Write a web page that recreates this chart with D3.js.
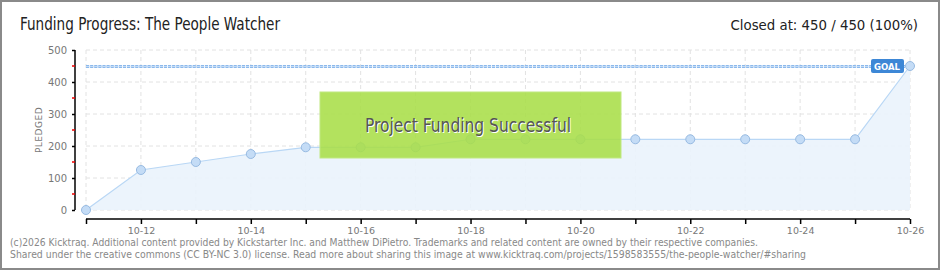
<!DOCTYPE html>
<html><head><meta charset="utf-8">
<script src="https://cdn.jsdelivr.net/npm/d3@7"></script>
<style>
html,body{margin:0;padding:0;background:#fff;}
svg{display:block;}
</style></head>
<body>
<svg id="c" width="940" height="270"></svg>
<script>
const dates = ["10-11","10-12","10-13","10-14","10-15","10-16","10-17","10-18","10-19","10-20","10-21","10-22","10-23","10-24","10-25","10-26"];
const pledged = [0,125,150,175,196,196,196,221,221,221,221,221,221,221,221,450];
const goal = 450;
const yTicks = [0,100,200,300,400,500];
const yMinorTicks = [50,150,250,350,450];
const xLabels = ["10-12","10-14","10-16","10-18","10-20","10-22","10-24","10-26"];
const title = "Funding Progress: The People Watcher";
const closedText = "Closed at:  450 /  450 (100%)";
const banner = "Project Funding Successful";
const footer1 = "(c)2026 Kicktraq. Additional content provided by Kickstarter Inc. and Matthew DiPietro. Trademarks and related content are owned by their respective companies.";
const footer2 = "Shared under the creative commons (CC BY-NC 3.0) license. Read more about sharing this image at www.kicktraq.com/projects/1598583555/the-people-watcher/#sharing";

const svg = d3.select("#c");
const font = "'DejaVu Sans', sans-serif";
const narrow = "'Liberation Sans Narrow', 'DejaVu Sans Condensed', 'Liberation Sans', sans-serif";

// frame
svg.append("rect").attr("x",1).attr("y",1).attr("width",938).attr("height",268)
  .attr("fill","#fff").attr("stroke","#8a8a8a").attr("stroke-width",2);

const x = d3.scalePoint().domain(dates).range([86,910]);
const y = d3.scaleLinear().domain([0,500]).range([210,50]);

// grid
const g = svg.append("g");
g.selectAll(".vg").data(dates).enter().append("line")
  .attr("x1",d=>x(d)).attr("x2",d=>x(d)).attr("y1",y(500)).attr("y2",y(0))
  .attr("stroke","#e2e2e2").attr("stroke-dasharray","4,3");
g.selectAll(".hg").data(yTicks).enter().append("line")
  .attr("x1",86).attr("x2",910).attr("y1",d=>y(d)).attr("y2",d=>y(d))
  .attr("stroke","#e2e2e2").attr("stroke-dasharray","4,3");

// area + line
const area = d3.area().x((d,i)=>x(dates[i])).y0(y(0)).y1(d=>y(d));
svg.append("path").datum(pledged).attr("d",area).attr("fill","#eaf3fc").attr("fill-opacity",0.9);
const line = d3.line().x((d,i)=>x(dates[i])).y(d=>y(d));
svg.append("path").datum(pledged).attr("d",line).attr("fill","none").attr("stroke","#b9d7f5").attr("stroke-width",1.2);

// goal line
svg.append("line").attr("x1",86).attr("x2",905).attr("y1",y(goal)+0.5).attr("y2",y(goal)+0.5)
  .attr("stroke","#8cb9ec").attr("stroke-width",3).attr("stroke-dasharray","3.2,0.9");
svg.append("line").attr("x1",86).attr("x2",905).attr("y1",y(goal)+0.5).attr("y2",y(goal)+0.5)
  .attr("stroke","#c2dbf6").attr("stroke-width",1).attr("stroke-dasharray","3.2,0.9");

// points
svg.selectAll(".pt").data(pledged).enter().append("circle")
  .attr("cx",(d,i)=>x(dates[i])).attr("cy",d=>y(d)).attr("r",4.5)
  .attr("fill","#c4dcf6").attr("stroke","#98bbe2").attr("stroke-width",1);

// goal label
const gx = x(dates[dates.length-1]);
svg.append("rect").attr("x",gx-39).attr("y",y(goal)-7).attr("width",33).attr("height",14).attr("rx",2)
  .attr("fill","#3d87d6");
svg.append("text").attr("x",gx-23).attr("y",y(goal)+3.5).attr("text-anchor","middle")
  .attr("font-family",font).attr("font-size",8.5).attr("font-weight","bold").attr("fill","#fff").text("GOAL");

// y axis
const yAxis = d3.axisLeft(y).tickValues(yTicks).tickSize(3).tickPadding(5);
const ya = svg.append("g").attr("transform","translate(75,0)").call(yAxis);
ya.select(".domain").attr("stroke","#000").attr("stroke-width",1.5).attr("d","M0,"+y(500)+"V"+y(0));
ya.selectAll(".tick line").attr("stroke","#000").attr("stroke-width",1.5);
ya.selectAll(".tick text").attr("font-family",font).attr("font-size",10).attr("fill","#777");
ya.selectAll(".minor").data(yMinorTicks).enter().append("line").attr("class","minor")
  .attr("x1",-3).attr("x2",0).attr("y1",d=>y(d)).attr("y2",d=>y(d))
  .attr("stroke","#e00").attr("stroke-width",1.5);

svg.append("text").attr("transform","translate(42,130) rotate(-90)").attr("text-anchor","middle")
  .attr("font-family",font).attr("font-size",9).attr("fill","#777").attr("letter-spacing",0.5).text("PLEDGED");

// x axis
const xAxis = d3.axisBottom(x).tickSize(5).tickPadding(3).tickFormat(d=>xLabels.includes(d)?d:"");
const xa = svg.append("g").attr("transform","translate(0,219)").call(xAxis);
xa.select(".domain").attr("stroke","#000").attr("stroke-width",1.5).attr("d","M86,0H910");
xa.selectAll(".tick line").attr("stroke","#000").attr("stroke-width",1.5);
xa.selectAll(".tick text").attr("font-family",font).attr("font-size",9.5).attr("fill","#777");

// banner
svg.append("rect").attr("x",320).attr("y",92).attr("width",301).attr("height",66)
  .attr("fill","#a8de48").attr("fill-opacity",0.88).attr("stroke","#bfe880").attr("stroke-width",1);
svg.append("text").attr("x",366).attr("y",133)
  .attr("font-family",narrow).attr("font-size",19).attr("fill","#fff")
  .attr("textLength",206).attr("lengthAdjust","spacingAndGlyphs").text(banner);
svg.append("text").attr("x",365).attr("y",132)
  .attr("font-family",narrow).attr("font-size",19).attr("fill","#555")
  .attr("textLength",206).attr("lengthAdjust","spacingAndGlyphs").text(banner);

// title
svg.append("text").attr("x",20).attr("y",30).attr("font-family",narrow).attr("font-size",17)
  .attr("fill","#222").attr("textLength",260).attr("lengthAdjust","spacingAndGlyphs").text(title);
svg.append("text").attr("x",918).attr("y",30).attr("text-anchor","end").attr("font-family",narrow).attr("font-size",14.8)
  .attr("fill","#222").text(closedText);

// footer
svg.append("text").attr("x",10).attr("y",246).attr("font-family",font).attr("font-size",9.6).attr("fill","#888")
  .attr("textLength",748).attr("lengthAdjust","spacingAndGlyphs").text(footer1);
svg.append("text").attr("x",10).attr("y",258).attr("font-family",font).attr("font-size",9.6).attr("fill","#888")
  .attr("textLength",796).attr("lengthAdjust","spacingAndGlyphs").text(footer2);
</script>
</body></html>
